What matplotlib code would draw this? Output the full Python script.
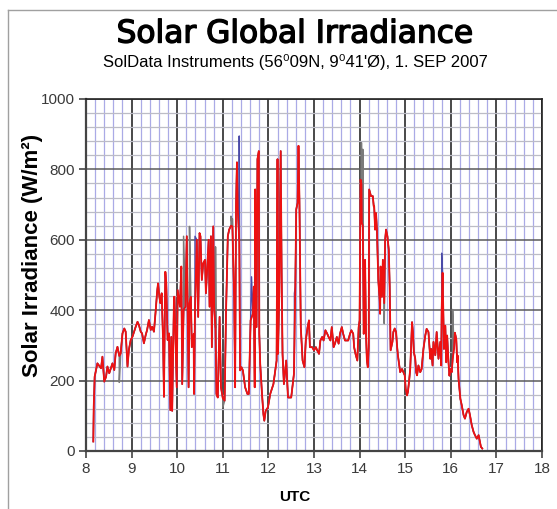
import matplotlib
matplotlib.use("Agg")
import matplotlib.pyplot as plt
import matplotlib.patheffects as pe
import numpy as np
from matplotlib.ticker import MultipleLocator
from matplotlib.lines import Line2D

# red trace (UTC hours, W/m2)
red_utc = [
    8.16, 8.17, 8.19, 8.25, 8.33, 8.36, 8.40, 8.44, 8.47, 8.51, 8.58, 8.62,
    8.65, 8.69, 8.73, 8.76, 8.80, 8.84, 8.87, 8.91, 8.94, 8.98, 9.02, 9.09,
    9.13, 9.16, 9.20, 9.23, 9.27, 9.31, 9.34, 9.38, 9.42, 9.45, 9.49, 9.53,
    9.56, 9.58, 9.61, 9.63, 9.66, 9.69, 9.71, 9.73, 9.74, 9.76, 9.79, 9.82,
    9.85, 9.87, 9.89, 9.93, 9.94, 9.99, 10.01, 10.06, 10.09, 10.11, 10.14,
    10.18, 10.21, 10.25, 10.27, 10.30, 10.32, 10.36, 10.37, 10.39, 10.43,
    10.46, 10.49, 10.51, 10.54, 10.57, 10.61, 10.63, 10.66, 10.69, 10.71,
    10.74, 10.76, 10.79, 10.81, 10.84, 10.86, 10.89, 10.93, 10.96, 11.00,
    11.04, 11.07, 11.11, 11.14, 11.18, 11.21, 11.25, 11.27, 11.29, 11.31,
    11.33, 11.36, 11.38, 11.41, 11.44, 11.49, 11.54, 11.57, 11.61, 11.66,
    11.68, 11.70, 11.71, 11.74, 11.76, 11.79, 11.80, 11.82, 11.86, 11.89,
    11.91, 11.94, 11.99, 12.04, 12.11, 12.18, 12.20, 12.21, 12.24, 12.27,
    12.29, 12.31, 12.34, 12.39, 12.43, 12.50, 12.56, 12.57, 12.59, 12.61,
    12.64, 12.66, 12.68, 12.71, 12.75, 12.79, 12.82, 12.86, 12.89, 12.91,
    12.96, 13.00, 13.04, 13.07, 13.11, 13.14, 13.18, 13.21, 13.25, 13.29,
    13.32, 13.36, 13.39, 13.43, 13.46, 13.50, 13.54, 13.57, 13.61, 13.64,
    13.68, 13.71, 13.75, 13.79, 13.82, 13.86, 13.88, 13.91, 13.93, 13.95,
    13.98, 14.00, 14.02, 14.04, 14.05, 14.07, 14.09, 14.11, 14.12, 14.14,
    14.16, 14.18, 14.20, 14.21, 14.25, 14.29, 14.31, 14.32, 14.34, 14.36,
    14.38, 14.39, 14.41, 14.44, 14.45, 14.46, 14.49, 14.51, 14.54, 14.56,
    14.58, 14.61, 14.64, 14.66, 14.68, 14.72, 14.74, 14.77, 14.80, 14.82,
    14.84, 14.87, 14.89, 14.93, 14.96, 14.99, 15.01, 15.04, 15.06, 15.09,
    15.11, 15.13, 15.15, 15.17, 15.19, 15.22, 15.24, 15.26, 15.29, 15.33,
    15.36, 15.40, 15.44, 15.47, 15.51, 15.55, 15.57, 15.60, 15.62, 15.66,
    15.69, 15.73, 15.77, 15.79, 15.80, 15.82, 15.85, 15.88, 15.90, 15.92,
    15.95, 15.97, 15.99, 16.02, 16.04, 16.07, 16.09, 16.12, 16.14, 16.15,
    16.17, 16.19, 16.21, 16.24, 16.28, 16.31, 16.35, 16.39, 16.42, 16.46,
    16.50, 16.53, 16.57, 16.61, 16.64, 16.66, 16.69,
]
red_wm2 = [
    27, 126, 211, 249, 235, 268, 197, 211, 240, 221, 249, 230,
    277, 296, 270, 277, 334, 348, 339, 240, 287, 315, 325, 353,
    367, 358, 339, 334, 306, 330, 344, 372, 344, 353, 339, 401,
    453, 476, 438, 420, 448, 315, 154, 415, 509, 476, 315, 334,
    116, 324, 114, 438, 438, 181, 457, 410, 524, 190, 400,
    410, 610, 181, 420, 438, 295, 333, 162, 400, 600,
    381, 619, 610, 486, 533, 543, 448, 524, 600, 410,
    610, 295, 638, 410, 350, 162, 152, 381, 181, 150,
    143, 390, 610, 629, 640, 638, 429, 181, 695, 820,
    686, 600, 229, 238, 229, 181, 162, 162, 371, 390,
    467, 181, 743, 352, 829, 852, 333, 248, 162, 105,
    86, 114, 124, 162, 190, 257, 829, 276, 450, 852,
    505, 276, 190, 257, 152, 152, 219, 300, 467, 686,
    705, 867, 714, 352, 257, 238, 314, 352, 371, 295,
    295, 286, 295, 286, 276, 314, 324, 314, 343, 333,
    324, 314, 352, 295, 305, 324, 305, 333, 352, 333,
    314, 314, 314, 333, 343, 333, 295, 276, 267, 257,
    352, 371, 771, 760, 648, 640, 333, 400, 543, 333,
    257, 238, 295, 743, 724, 724, 695, 695, 629, 676,
    629, 581, 486, 429, 390, 524, 438, 543, 420, 600,
    629, 610, 571, 467, 286, 310, 338, 348, 338, 300,
    272, 243, 224, 233, 224, 215, 177, 158, 168, 205,
    233, 300, 366, 338, 281, 262, 224, 215, 243, 224,
    233, 290, 328, 347, 338, 262, 290, 243, 310, 272,
    338, 262, 310, 243, 400, 506, 290, 356, 252, 328,
    252, 214, 233, 224, 260, 290, 336, 318, 252, 271,
    205, 177, 148, 130, 102, 92, 111, 120, 102, 73,
    54, 45, 35, 45, 26, 12, 7,
]

# where the grey and blue traces leave the red one
grey_utc = [8.73, 10.14, 10.27, 10.84, 11.00, 11.18, 11.21, 12.24, 14.04, 14.07, 14.54, 16.04]
grey_wm2 = [195, 610, 638, 580, 124, 667, 660, 648, 876, 857, 362, 402]
blue_utc = [8.18, 10.39, 11.36, 11.63, 12.57, 15.80]
blue_wm2 = [160, 610, 895, 495, 448, 562]


def merged(t, v, extra_t, extra_v):
    tt = np.concatenate([t, extra_t])
    vv = np.concatenate([v, extra_v])
    order = np.argsort(tt, kind="stable")
    return tt[order], vv[order]


FONT = ["Liberation Sans", "DejaVu Sans"]

fig = plt.figure(figsize=(5.57, 5.09), dpi=100)
fig.patch.set_facecolor("white")

# thin grey frame around the chart
fig.add_artist(Line2D([8 / 557, 1.0], [1 - 10 / 509] * 2, color="#a0a0a0", lw=1.0))
fig.add_artist(Line2D([8 / 557] * 2, [0.0, 1 - 10 / 509], color="#a0a0a0", lw=1.0))

ax = fig.add_axes([86 / 557, 1 - 451 / 509, (542 - 86) / 557, (451 - 99) / 509])
ax.set_xlim(8, 18)
ax.set_ylim(0, 1000)
ax.set_facecolor("white")

# grid: light blue minors, dark majors
ax.xaxis.set_major_locator(MultipleLocator(1))
ax.xaxis.set_minor_locator(MultipleLocator(0.2))
ax.yaxis.set_major_locator(MultipleLocator(200))
ax.yaxis.set_minor_locator(MultipleLocator(40))
ax.grid(which="minor", axis="x", color="#aaaae6", lw=0.9)
ax.grid(which="minor", axis="y", color="#bcbcc6", lw=0.9)
ax.grid(which="major", axis="x", color="#2a2a2a", lw=1.2)
ax.grid(which="major", axis="y", color="#5a5a5a", lw=1.1)
ax.set_axisbelow(True)

for side in ["top", "right"]:
    ax.spines[side].set_color("#222222")
    ax.spines[side].set_linewidth(1.2)
for side in ["left", "bottom"]:
    ax.spines[side].set_color("#444444")
    ax.spines[side].set_linewidth(1.6)

gt, gv = merged(red_utc, red_wm2, grey_utc, grey_wm2)
bt, bv = merged(red_utc, red_wm2, blue_utc, blue_wm2)
ax.plot(gt, gv, color="#7a7a7a", lw=1.1, zorder=3)
ax.plot(bt, bv, color="#4a4aa8", lw=1.0, zorder=3)
ax.plot(red_utc, red_wm2, color="#ee1111", lw=1.3, zorder=4)

tick_font = dict(family=FONT, size=11, color="#3a3a3a")
ax.tick_params(which="major", length=5, width=1.2, color="#444444", pad=3)
ax.tick_params(which="minor", length=0)
ax.set_xticks(range(8, 19))
ax.set_xticklabels([str(h) for h in range(8, 19)], **tick_font)
ax.set_yticks(range(0, 1001, 200))
ax.set_yticklabels([str(v) for v in range(0, 1001, 200)], **tick_font)

fig.text(295 / 557, 1 - 497 / 509, "UTC", ha="center", va="center",
         family=FONT, size=11, weight="bold")
fig.text(33 / 557, 1 - 255 / 509, "Solar Irradiance (W/m²)", ha="center", va="center",
         rotation=90, family=FONT, size=16, weight="bold")

# title is a heavy rounded face in the original; thicken the strokes a bit
fig.text(295 / 557, 1 - 34 / 509, "Solar Global Irradiance", ha="center", va="center",
         family="DejaVu Sans", size=22.5,
         path_effects=[pe.withStroke(linewidth=1.0, foreground="black")])
fig.text(295 / 557, 1 - 62 / 509, "SolData Instruments (56⁰09N, 9⁰41'Ø), 1. SEP 2007",
         ha="center", va="center", family=FONT, size=12)

fig.savefig("out.png", dpi=100)
